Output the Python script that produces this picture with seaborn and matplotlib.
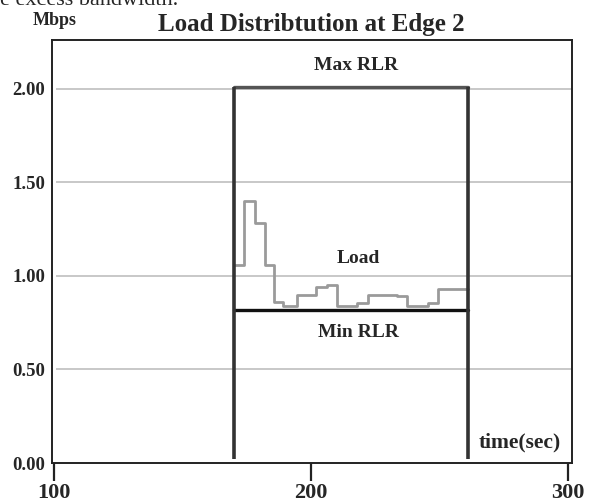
import matplotlib
matplotlib.use("Agg")
import matplotlib.pyplot as plt
import seaborn as sns
import pandas as pd

# ---- data ----
load_time = [170, 174, 178, 182, 185.5, 189, 194.5, 202, 206, 210, 218, 222, 233.5, 237.5, 245.5, 249.5, 261]
load_mbps = [1.06, 1.40, 1.28, 1.06, 0.86, 0.84, 0.90, 0.94, 0.95, 0.84, 0.855, 0.90, 0.89, 0.84, 0.855, 0.93, 0.93]
rlr_start = 170
rlr_end = 261
max_rlr = 2.01
min_rlr = 0.82
x_ticks = [100, 200, 300]
y_ticks = [0.0, 0.5, 1.0, 1.5, 2.0]
y_tick_labels = ["0.00", "0.50", "1.00", "1.50", "2.00"]

sns.set_theme(style="white")
plt.rcParams['font.family'] = ['Liberation Serif', 'DejaVu Serif']

fig = plt.figure(figsize=(5.9, 5.04), dpi=100)
ax = fig.add_axes([52/590, 1-463/504, 520/590, 423/504])

# grid lines
ax.hlines(y_ticks[1:], 100.6, 301.5, colors="#c8c8c8", linewidth=1.4, zorder=1)

load_df = pd.DataFrame({"t": load_time, "v": load_mbps})
sns.lineplot(data=load_df, x="t", y="v", drawstyle="steps-post", color="#9a9a9a",
             linewidth=2.0, ax=ax, zorder=3)

max_df = pd.DataFrame({"t": [rlr_start, rlr_end], "v": [max_rlr, max_rlr]})
min_df = pd.DataFrame({"t": [rlr_start, rlr_end], "v": [min_rlr, min_rlr]})
sns.lineplot(data=max_df, x="t", y="v", color="#555555", linewidth=2.4, ax=ax, zorder=4)
sns.lineplot(data=min_df, x="t", y="v", color="#111111", linewidth=2.4, ax=ax, zorder=4)
ax.vlines([rlr_start, rlr_end], 0.02, max_rlr, colors="#333333", linewidth=2.6, zorder=5)

ax.set_xlim(99.2, 301.5)
ax.set_ylim(0, 2.26)
ax.set_xlabel("")
ax.set_ylabel("")

ax.set_xticks(x_ticks)
ax.set_xticklabels([str(v) for v in x_ticks], fontsize=16, fontweight="bold")
ax.set_yticks(y_ticks)
ax.set_yticklabels(y_tick_labels, fontsize=13.5, fontweight="bold")
ax.tick_params(axis="x", direction="out", length=13, width=1.6, color="#222222", pad=1.5, bottom=True)
ax.tick_params(axis="y", length=0, pad=5)

for s in ax.spines.values():
    s.set_color("#222222")
    s.set_linewidth(1.4)

ax.text(217.5, 2.123, "Max RLR", ha="center", va="center", fontsize=14, fontweight="bold")
ax.text(218.5, 1.09, "Load", ha="center", va="center", fontsize=14, fontweight="bold")
ax.text(218.5, 0.695, "Min RLR", ha="center", va="center", fontsize=14, fontweight="bold")
ax.text(281, 0.11, "time(sec)", ha="center", va="center", fontsize=15.5, fontweight="bold")

fig.text(311/590, 1-31/504, "Load Distribtution at Edge 2", ha="center", va="baseline",
         fontsize=18, fontweight="bold")
fig.text(55/590, 1-25/504, "Mbps", ha="center", va="baseline", fontsize=13, fontweight="bold")
fig.text(0.0, 1-5/504, "e excess bandwidth.", ha="left", va="baseline", fontsize=16)

fig.savefig("out.png", dpi=100)
